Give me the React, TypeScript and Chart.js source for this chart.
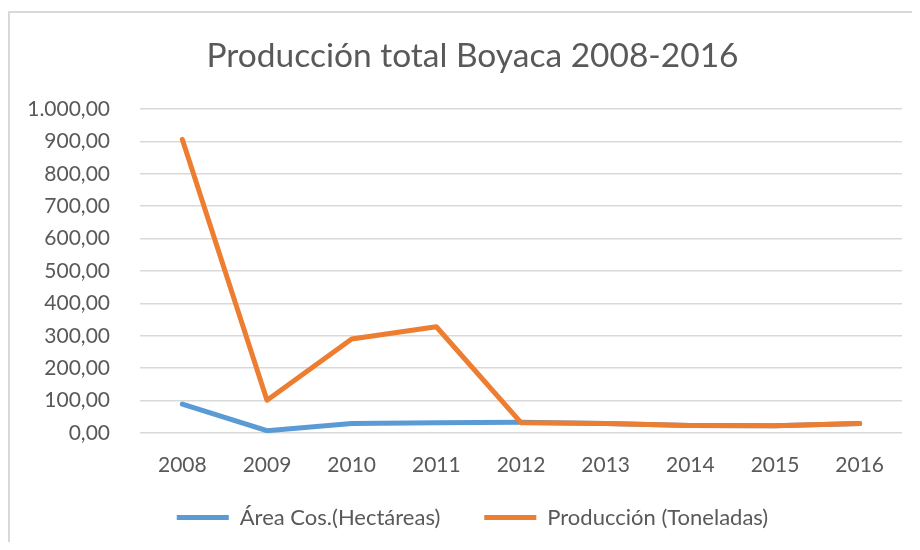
import React, { useEffect, useRef } from "react";
import { Chart, registerables } from "chart.js";

Chart.register(...registerables);

const years = ["2008", "2009", "2010", "2011", "2012", "2013", "2014", "2015", "2016"];
const areaCos = [89, 7, 29, 32, 33, 29, 23, 22, 29];
const produccion = [906, 101, 290, 328, 32, 29, 23, 22, 29];
const yMin = 0;
const yMax = 1000;
const yStep = 100;
const titleText = "Producción total Boyaca 2008-2016";
const seriesNames = ["Área Cos.(Hectáreas)", "Producción (Toneladas)"];

const FONT = "Lato, 'Noto Sans', sans-serif";
const TEXT = "#595959";

function fmt(v: number): string {
  const fixed = Math.abs(v).toFixed(2);
  const [intPart, dec] = fixed.split(".");
  const withSep = intPart.replace(/\B(?=(\d{3})+(?!\d))/g, ".");
  return (v < 0 ? "-" : "") + withSep + "," + dec;
}

export default function App() {
  const ref = useRef<HTMLCanvasElement | null>(null);
  useEffect(() => {
    if (!ref.current) return;
    const chart = new Chart(ref.current, {
      type: "line",
      data: {
        labels: years,
        datasets: [
          {
            label: seriesNames[0],
            data: areaCos,
            borderColor: "#5b9bd5",
            backgroundColor: "#5b9bd5",
            borderWidth: 5,
            pointRadius: 0,
            tension: 0,
            borderCapStyle: "round",
            borderJoinStyle: "round",
            order: 2,
          },
          {
            label: seriesNames[1],
            data: produccion,
            borderColor: "#ed7d31",
            backgroundColor: "#ed7d31",
            borderWidth: 5,
            pointRadius: 0,
            tension: 0,
            borderCapStyle: "round",
            borderJoinStyle: "round",
            order: 1,
          },
        ],
      },
      options: {
        animation: false,
        responsive: false,
        maintainAspectRatio: false,
        layout: { padding: { left: 33, right: 18, top: 0, bottom: 3.5 } },
        plugins: {
          title: {
            display: true,
            text: titleText,
            color: TEXT,
            font: { family: FONT, size: 33.5, weight: "normal", lineHeight: 1.2 },
            padding: { top: 22.9, bottom: 32.9 },
          },
          legend: {
            display: true,
            position: "bottom",
            labels: {
              color: TEXT,
              font: { family: FONT, size: 22, lineHeight: 1.2 },
              boxWidth: 52,
              boxHeight: 5,
              padding: 44,
              sort: (a: any, b: any) => a.datasetIndex - b.datasetIndex,
              generateLabels: (c: any) =>
                (Chart.defaults.plugins.legend.labels.generateLabels as any)(c).map((l: any) => ({
                  ...l,
                  lineWidth: 0,
                  fillStyle: l.strokeStyle,
                })),
            },
          },
          tooltip: { enabled: false },
        },
        scales: {
          x: {
            offset: true,
            grid: { display: false, drawTicks: false },
            border: { display: false },
            ticks: {
              color: TEXT,
              font: { family: FONT, size: 21 },
              padding: 19.4,
              maxRotation: 0,
            },
            afterFit: (s: any) => {
              s.height = 29.5;
              s._computeLabelArea = () => undefined;
            },
          },
          y: {
            min: yMin,
            max: yMax,
            grid: { color: "#d9d9d9", lineWidth: 1.5, drawTicks: false },
            border: { display: false },
            ticks: {
              stepSize: yStep,
              color: TEXT,
              font: { family: FONT, size: 21 },
              padding: 30,
              callback: (v: any) => fmt(Number(v)),
            },
            afterFit: (s: any) => {
              s.width = 97;
              s._computeLabelArea = () => undefined;
            },
          },
        },
      },
    });
    return () => chart.destroy();
  }, []);

  return (
    <div
      style={{
        marginTop: 3,
        width: 910,
        height: 529,
        borderLeft: "2px solid #d9d9d9",
        borderTop: "2px solid #d9d9d9",
        background: "#fff",
      }}
    >
      <canvas ref={ref} width={910} height={529} style={{ display: "block", width: 910, height: 529 }} />
    </div>
  );
}
